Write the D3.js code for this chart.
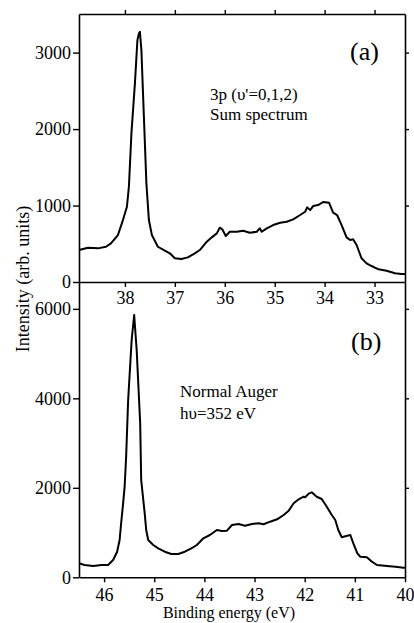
<!DOCTYPE html>
<html>
<head>
<meta charset="utf-8">
<script src="https://cdn.jsdelivr.net/npm/d3@7"></script>
<style>
  html, body { margin: 0; padding: 0; background: #fff; }
  svg { display: block; }
  text { font-family: "Liberation Serif", "Times New Roman", serif; fill: #000; }
</style>
</head>
<body>
<svg id="chart" width="414" height="623"></svg>
<script>
// ---- Data: panel (a) 3p sum spectrum ----
const energyA = [38.92, 38.74, 38.54, 38.38, 38.28, 38.14, 38.04, 37.96, 37.92, 37.87, 37.80, 37.75, 37.72, 37.70,
  37.67, 37.62, 37.57, 37.52, 37.46, 37.34, 37.20, 37.10, 37.00, 36.87, 36.74, 36.60, 36.50, 36.36, 36.26, 36.16,
  36.10, 36.05, 35.98, 35.90, 35.76, 35.63, 35.50, 35.36, 35.30, 35.26, 35.16, 35.03, 34.89, 34.76, 34.63, 34.49,
  34.39, 34.35, 34.29, 34.23, 34.13, 34.03, 33.91, 33.83, 33.75, 33.66, 33.56, 33.49, 33.43, 33.36, 33.26, 33.16,
  33.06, 32.92, 32.76, 32.59, 32.46, 32.39];
const intensityA = [418, 448, 440, 461, 506, 614, 810, 984, 1250, 1943, 2597, 3163, 3250, 3272,
  3032, 2160, 1290, 810, 614, 461, 409, 375, 310, 301, 322, 375, 418, 527, 584, 636,
  710, 689, 601, 657, 657, 670, 644, 657, 702, 657, 702, 745, 775, 788, 819, 876,
  919, 976, 941, 993, 1006, 1046, 1036, 906, 876, 745, 584, 549, 558, 484, 310, 244,
  209, 166, 148, 114, 105, 105];

// ---- Data: panel (b) normal Auger ----
const energyB = [46.50, 46.39, 46.22, 46.05, 45.92, 45.82, 45.74, 45.69, 45.66, 45.62, 45.59, 45.56, 45.52, 45.45,
  45.40, 45.35, 45.28, 45.26, 45.19, 45.16, 45.12, 45.02, 44.92, 44.79, 44.66, 44.52, 44.39, 44.26, 44.15,
  44.02, 43.89, 43.75, 43.65, 43.55, 43.45, 43.32, 43.19, 43.05, 42.92, 42.82, 42.69, 42.55, 42.42, 42.32,
  42.22, 42.12, 42.02, 41.99, 41.92, 41.86, 41.76, 41.66, 41.56, 41.46, 41.39, 41.33, 41.26, 41.17, 41.09,
  41.03, 40.95, 40.89, 40.76, 40.66, 40.56, 40.36, 40.19, 40.03, 40.00];
const intensityB = [313, 275, 253, 275, 275, 387, 572, 834, 1207, 1654, 2025, 2695, 3960, 5308,
  5862, 5080, 3442, 2175, 1430, 1057, 834, 722, 648, 572, 521, 521, 572, 648, 722,
  872, 945, 1057, 1035, 1042, 1169, 1191, 1153, 1191, 1207, 1185, 1243, 1296, 1392, 1488,
  1654, 1743, 1801, 1788, 1870, 1899, 1801, 1750, 1578, 1392, 1281, 1057, 894, 923, 945,
  760, 536, 460, 447, 349, 275, 253, 237, 215, 215];

// ---- Axis ticks ----
const xTicksA = [38, 37, 36, 35, 34, 33];
const yTicksA = [0, 1000, 2000, 3000];
const xTicksB = [46, 45, 44, 43, 42, 41, 40];
const yTicksB = [0, 2000, 4000, 6000];

const FONT = "'Liberation Serif', 'Times New Roman', serif";
const svg = d3.select("#chart");
const L = 79, R = 405, topA = 14, botA = 282, topB = 282, botB = 577.3;

const xA = d3.scaleLinear().domain([38.92, 32.39]).range([L, R]);
const yA = d3.scaleLinear().domain([0, 3505]).range([botA, topA]);
const xB = d3.scaleLinear().domain([46.5, 40.0]).range([L, R]);
const yB = d3.scaleLinear().domain([0, 6600]).range([botB, topB]);

function styleAxis(g) {
  g.attr("font-family", FONT);
  g.selectAll("path.domain").attr("stroke", "#000").attr("stroke-width", 1.6);
  g.selectAll(".tick line").attr("stroke", "#000").attr("stroke-width", 1.4);
  g.selectAll(".tick text").style("font-family", FONT).style("font-size", "18px").attr("fill", "#000");
}

function panel(x, y, xt, yt, top, bot, ex, inten, xPad) {
  svg.append("g").attr("transform", `translate(${L},0)`)
    .call(d3.axisLeft(y).tickValues(yt).tickSize(6).tickSizeOuter(0).tickPadding(2).tickFormat(d3.format("d")))
    .call(styleAxis);
  svg.append("g").attr("transform", `translate(${R},0)`)
    .call(d3.axisRight(y).tickValues(yt.filter(d => d > 0)).tickSize(4).tickSizeOuter(0).tickFormat(""))
    .call(styleAxis);
  svg.append("g").attr("transform", `translate(0,${bot})`)
    .call(d3.axisBottom(x).tickValues(xt).tickSize(5).tickSizeOuter(0).tickPadding(xPad).tickFormat(d3.format("d")))
    .call(styleAxis);
  const pts = ex.map((e, i) => [e, inten[i]]);
  svg.append("path").datum(pts)
    .attr("fill", "none").attr("stroke", "#000").attr("stroke-width", 2)
    .attr("stroke-linejoin", "round")
    .attr("d", d3.line().x(d => x(d[0])).y(d => y(d[1])));
}

panel(xA, yA, xTicksA, yTicksA, topA, botA, energyA, intensityA, 4);
panel(xB, yB, xTicksB, yTicksB, topB, botB, energyB, intensityB, 6);

svg.append("g").attr("transform", `translate(0,${topA})`)
  .call(d3.axisTop(xA).tickValues(xTicksA).tickSize(4).tickSizeOuter(0).tickFormat(""))
  .call(styleAxis);

function label(x, y, size, str) {
  return svg.append("text").attr("x", x).attr("y", y)
    .style("font-family", FONT).style("font-size", size + "px").text(str);
}
label(350, 60, 26, "(a)");
label(351, 350, 26, "(b)");
label(210, 100, 17, "3p (\u03C5'=0,1,2)");
label(210, 120, 17, "Sum spectrum");
label(180, 397, 17, "Normal Auger");
label(180, 419, 17, "h\u03C5=352 eV");

svg.append("text").attr("transform", "translate(29,279) rotate(-90)")
  .attr("text-anchor", "middle").style("font-family", FONT).style("font-size", "18px")
  .text("Intensity (arb. units)");
svg.append("text").attr("x", 229).attr("y", 618)
  .attr("text-anchor", "middle").style("font-family", FONT).style("font-size", "16px")
  .text("Binding energy (eV)");
</script>
</body>
</html>
